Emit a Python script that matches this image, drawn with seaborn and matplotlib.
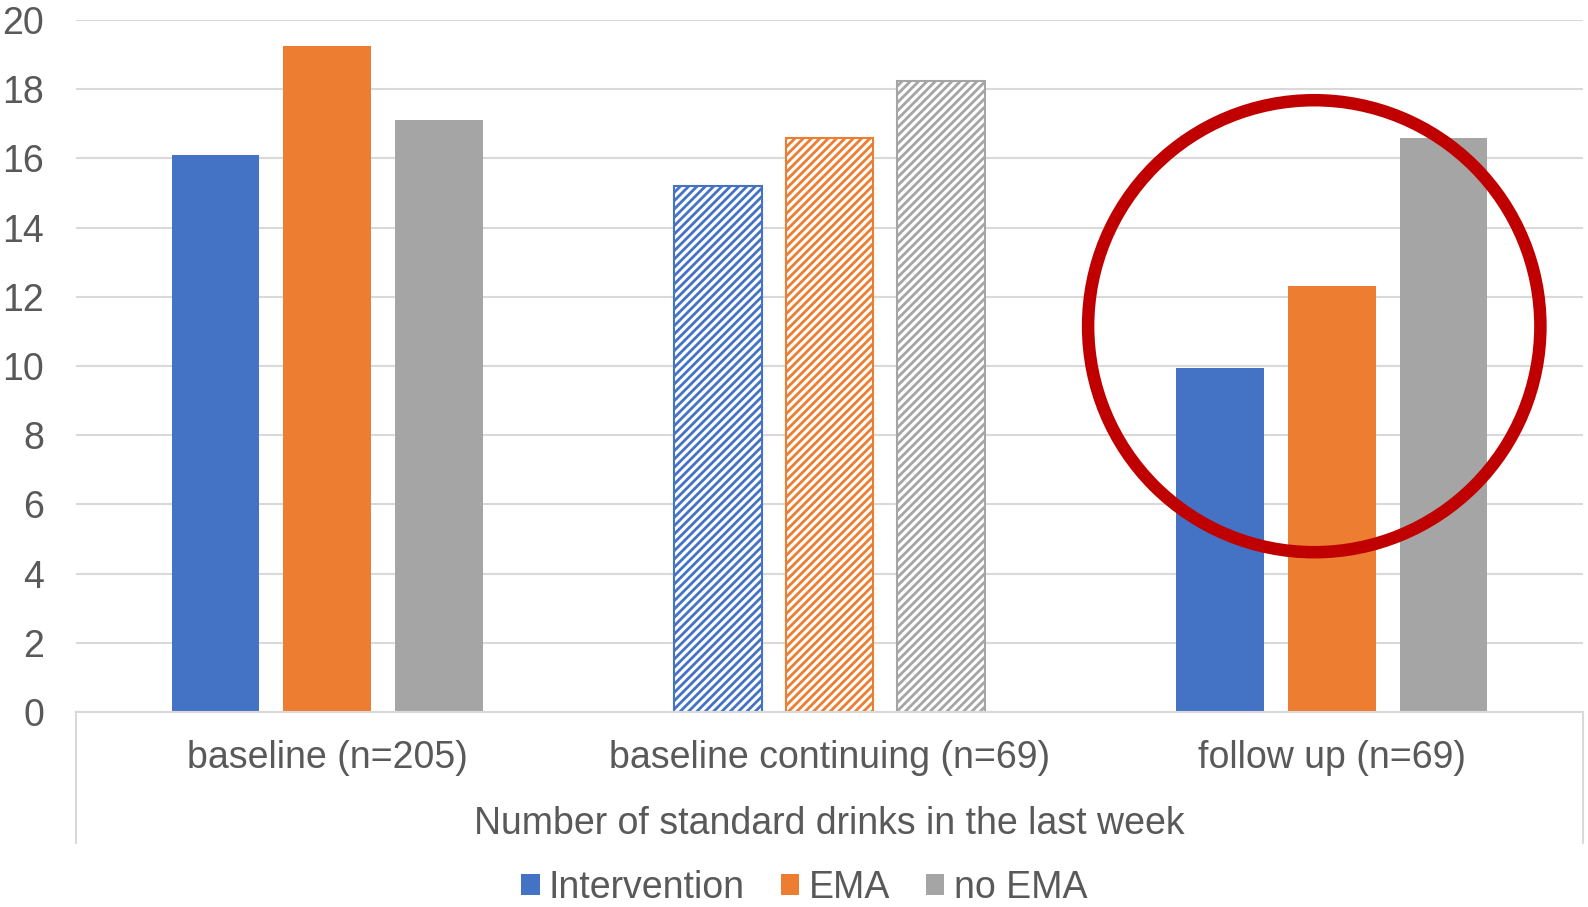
import numpy as np
import pandas as pd
import seaborn as sns
import matplotlib.pyplot as plt
from matplotlib.patches import Patch, Ellipse
from matplotlib.lines import Line2D

# data
periods = ['baseline (n=205)', 'baseline continuing (n=69)', 'follow up (n=69)']
groups = ['Intervention', 'EMA', 'no EMA']
intervention = [16.1, 15.2, 9.95]
ema = [19.25, 16.6, 12.3]
no_ema = [17.1, 18.25, 16.6]
x_title = 'Number of standard drinks in the last week'

colors = ['#4472C4', '#ED7D31', '#A5A5A5']
text_color = '#595959'
grid_color = '#D9D9D9'
fs = 27

df = pd.DataFrame({
    'period': periods * 3,
    'group': np.repeat(groups, len(periods)),
    'value': intervention + ema + no_ema,
})

sns.set_theme(style='white')
plt.rcParams['font.family'] = ['Liberation Sans', 'DejaVu Sans']
plt.rcParams['hatch.linewidth'] = 2.0

fig = plt.figure(figsize=(15.88, 9.07), dpi=100)
ax = fig.add_axes([76 / 1588, 1 - 712 / 907, (1583 - 76) / 1588, (712 - 20) / 907])

sns.barplot(data=df, x='period', y='value', hue='group', hue_order=groups,
            palette=colors, width=0.667, gap=0.214, legend=False,
            saturation=1, ax=ax, linewidth=0)

# middle group drawn with a diagonal hatch (white fill)
for cont, c in zip(ax.containers, colors):
    bar = cont[1]
    bar.set_facecolor('white')
    bar.set_edgecolor(c)
    bar.set_hatch('////')
    bar.set_linewidth(1.5)

ax.set_xlim(-0.5, 2.5)
ax.set_ylim(0, 20)
ax.set_yticks(np.arange(0, 21, 2))
ax.yaxis.grid(True, color=grid_color, linewidth=1.5)
ax.set_axisbelow(True)
for s in ['top', 'right', 'left']:
    ax.spines[s].set_visible(False)
ax.spines['bottom'].set_color(grid_color)
ax.spines['bottom'].set_linewidth(1.5)
ax.tick_params(axis='y', length=0, pad=23, labelsize=fs, labelcolor=text_color)
ax.tick_params(axis='x', length=0, pad=20, labelsize=fs, labelcolor=text_color)
ax.set_xlabel('')
ax.set_ylabel('')

# outer vertical lines of the category axis box
for xa in [0, 1]:
    ax.add_line(Line2D([xa, xa], [0, -(843 - 712) / 692], transform=ax.transAxes,
                       color=grid_color, linewidth=1.5, clip_on=False))

fig.text(829 / 1588, 1 - 834 / 907, x_title, ha='center', va='baseline',
         fontsize=fs, color=text_color)

# red circle highlighting follow up
ax.add_patch(Ellipse((1.965, 11.15), width=2 * 226 / 502, height=2 * 226 / 34.6,
                     fill=False, edgecolor='#C00000', linewidth=9, clip_on=False,
                     zorder=5))

handles = [Patch(facecolor=c, edgecolor='none') for c in colors]
fig.legend(handles, groups, loc='center', bbox_to_anchor=(804 / 1588, 1 - 888 / 907),
           ncol=3, frameon=False, fontsize=fs, labelcolor=text_color,
           handlelength=0.5, handleheight=0.5, handletextpad=0.25,
           columnspacing=0.95, borderaxespad=0, borderpad=0)

fig.savefig('out.png', dpi=100)
